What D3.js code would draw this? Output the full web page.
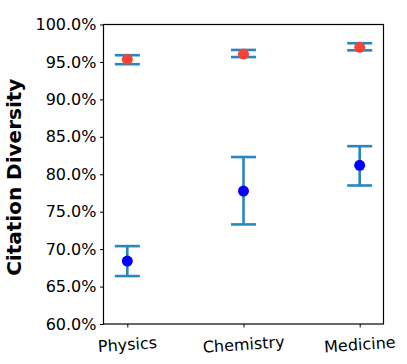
<!DOCTYPE html>
<html>
<head>
<meta charset="utf-8">
<script src="https://cdn.jsdelivr.net/npm/d3@7"></script>
<style>
  body { margin: 0; background: #fff; }
  text { font-family: "DejaVu Sans", sans-serif; }
</style>
</head>
<body>
<svg width="407" height="364"></svg>
<script>
// Data
const fields = ["Physics", "Chemistry", "Medicine"];
const highMean = [95.35, 96.05, 96.95];
const highLow = [94.7, 95.65, 96.55];
const highHigh = [95.9, 96.6, 97.5];
const lowMean = [68.4, 77.75, 81.2];
const lowLow = [66.4, 73.3, 78.5];
const lowHigh = [70.4, 82.3, 83.75];
const yTicks = [60, 65, 70, 75, 80, 85, 90, 95, 100];

const svg = d3.select("svg");
const margin = { left: 103.5, right: 23.5, top: 24.5, bottom: 40 };
const width = 407 - margin.left - margin.right;
const height = 364 - margin.top - margin.bottom;

const x = d3.scaleLinear().domain([-0.205, 2.205]).range([0, width]);
const y = d3.scaleLinear().domain([60, 100]).range([height, 0]);

const g = svg.append("g").attr("transform", `translate(${margin.left},${margin.top})`);

// Axes
const yAxis = g.append("g")
  .call(d3.axisLeft(y).tickValues(yTicks).tickSize(3.5).tickPadding(3.5)
    .tickFormat(d => d.toFixed(1) + "%"));
yAxis.select(".domain").remove();
yAxis.selectAll("text").attr("font-size", 16).attr("fill", "#000");

const xAxis = g.append("g")
  .attr("transform", `translate(0,${height})`)
  .call(d3.axisBottom(x).tickValues([0, 1, 2]).tickSize(3.5).tickFormat(""));
xAxis.select(".domain").remove();

xAxis.selectAll(".tick").append("text")
  .attr("fill", "#000")
  .attr("font-size", 16)
  .attr("text-anchor", "middle")
  .attr("transform", "translate(0,26) rotate(-4)")
  .text((d, i) => fields[i]);

// Frame
g.append("rect")
  .attr("width", width).attr("height", height)
  .attr("fill", "none").attr("stroke", "#000").attr("stroke-width", 1.2);

// Error bars
const errColor = "#2a87bd";
const capHalf = 12.5;
function drawErrors(low, high, cls) {
  const eg = g.append("g").attr("class", cls)
    .attr("stroke", errColor).attr("stroke-width", 2.6);
  fields.forEach((f, i) => {
    eg.append("line")
      .attr("x1", x(i)).attr("x2", x(i))
      .attr("y1", y(low[i])).attr("y2", y(high[i]));
    [low[i], high[i]].forEach(v => {
      eg.append("line")
        .attr("x1", x(i) - capHalf).attr("x2", x(i) + capHalf)
        .attr("y1", y(v)).attr("y2", y(v));
    });
  });
}
drawErrors(highLow, highHigh, "err-high");
drawErrors(lowLow, lowHigh, "err-low");

// Points
g.selectAll(".pt-high").data(highMean).join("circle")
  .attr("class", "pt-high")
  .attr("cx", (d, i) => x(i)).attr("cy", d => y(d))
  .attr("r", 5.5).attr("fill", "#f44336");

g.selectAll(".pt-low").data(lowMean).join("circle")
  .attr("class", "pt-low")
  .attr("cx", (d, i) => x(i)).attr("cy", d => y(d))
  .attr("r", 5.5).attr("fill", "#0000ff");

// Y label
svg.append("text")
  .attr("transform", `translate(21,${margin.top + height / 2 + 3}) rotate(-90)`)
  .attr("text-anchor", "middle")
  .attr("font-size", 20)
  .attr("font-weight", "bold")
  .text("Citation Diversity");
</script>
</body>
</html>
